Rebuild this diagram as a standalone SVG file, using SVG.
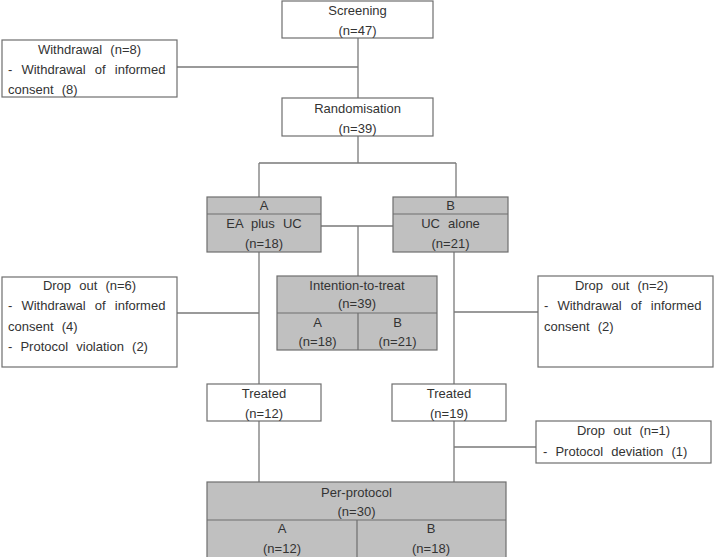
<svg xmlns="http://www.w3.org/2000/svg" width="715" height="557" viewBox="0 0 715 557">
<style>
.bw{fill:#ffffff;stroke:#6e6e6e;stroke-width:1.2}
.bg{fill:#c0c0c0;stroke:#6e6e6e;stroke-width:1.2}
.dv{stroke:#6e6e6e;stroke-width:1.2;fill:none}
.cn{stroke:#7a7a7a;stroke-width:1.3;fill:none}
text{font-family:"Liberation Sans",Arial,sans-serif;font-size:13px;fill:#333333;word-spacing:4.5px}
.c{text-anchor:middle}
.j{word-spacing:5.5px}
</style>
<rect width="715" height="557" fill="#ffffff"/>
<g id="connectors">
<path class="cn" d="M358 38V98M177 67H358"/>
<path class="cn" d="M358 136V163M259 163H456M259 163V197M456 163V197"/>
<path class="cn" d="M321 226H393M358 226V276"/>
<path class="cn" d="M259 252V384M177 313H259"/>
<path class="cn" d="M454 252V384M454 312H538"/>
<path class="cn" d="M259 421V482M454 421V482M454 447H536"/>
</g>
<g id="screening">
<rect class="bw" x="282" y="1" width="151" height="37"/>
<text class="c" x="357.5" y="14.5">Screening</text>
<text class="c" x="357.5" y="34.5">(n=47)</text>
</g>
<g id="withdrawal">
<rect class="bw" x="2" y="40" width="175" height="57"/>
<text class="c" x="89.5" y="53.5">Withdrawal (n=8)</text>
<text class="j" x="8" y="73.5">- Withdrawal of informed</text>
<text x="8" y="93.5">consent (8)</text>
</g>
<g id="randomisation">
<rect class="bw" x="282" y="98" width="151" height="38"/>
<text class="c" x="357.5" y="112.5">Randomisation</text>
<text class="c" x="357.5" y="132.5">(n=39)</text>
</g>
<g id="groupA">
<rect class="bg" x="207" y="197" width="114" height="55"/>
<path class="dv" d="M207 214H321"/>
<text class="c" x="264" y="209.5">A</text>
<text class="c" x="264" y="227.5">EA plus UC</text>
<text class="c" x="264" y="247.5">(n=18)</text>
</g>
<g id="groupB">
<rect class="bg" x="393" y="197" width="115" height="55"/>
<path class="dv" d="M393 214H508"/>
<text class="c" x="450.5" y="209.5">B</text>
<text class="c" x="450.5" y="227.5">UC alone</text>
<text class="c" x="450.5" y="247.5">(n=21)</text>
</g>
<g id="itt">
<rect class="bg" x="277" y="276" width="160" height="74"/>
<path class="dv" d="M277 313H437M358 313V350"/>
<text class="c" x="357" y="289.5">Intention-to-treat</text>
<text class="c" x="357" y="308">(n=39)</text>
<text class="c" x="317.5" y="326.5">A</text>
<text class="c" x="317.5" y="346">(n=18)</text>
<text class="c" x="397.5" y="326.5">B</text>
<text class="c" x="397.5" y="346">(n=21)</text>
</g>
<g id="dropoutA">
<rect class="bw" x="2" y="277" width="175" height="90"/>
<text class="c" x="89.5" y="289.5">Drop out (n=6)</text>
<text class="j" x="8" y="309.5">- Withdrawal of informed</text>
<text x="8" y="330.5">consent (4)</text>
<text x="8" y="350.5">- Protocol violation (2)</text>
</g>
<g id="dropoutB">
<rect class="bw" x="538" y="276" width="175" height="91"/>
<text class="c" x="621.5" y="289.5">Drop out (n=2)</text>
<text class="j" x="544" y="309.5">- Withdrawal of informed</text>
<text x="544" y="330.5">consent (2)</text>
</g>
<g id="treatedA">
<rect class="bw" x="207" y="384" width="114" height="37"/>
<text class="c" x="264" y="397.5">Treated</text>
<text class="c" x="264" y="417.5">(n=12)</text>
</g>
<g id="treatedB">
<rect class="bw" x="392" y="384" width="114" height="37"/>
<text class="c" x="449" y="397.5">Treated</text>
<text class="c" x="449" y="417.5">(n=19)</text>
</g>
<g id="dropoutB2">
<rect class="bw" x="536" y="421" width="175" height="42"/>
<text class="c" x="623.5" y="434.5">Drop out (n=1)</text>
<text x="543" y="455.5">- Protocol deviation (1)</text>
</g>
<g id="perprotocol">
<rect class="bg" x="207" y="482" width="299" height="76"/>
<path class="dv" d="M207 520H506M357 520V557"/>
<text class="c" x="356.5" y="496.5">Per-protocol</text>
<text class="c" x="356.5" y="515.5">(n=30)</text>
<text class="c" x="282" y="532.5">A</text>
<text class="c" x="282" y="552.5">(n=12)</text>
<text class="c" x="431" y="532.5">B</text>
<text class="c" x="431" y="552.5">(n=18)</text>
</g>
</svg>
